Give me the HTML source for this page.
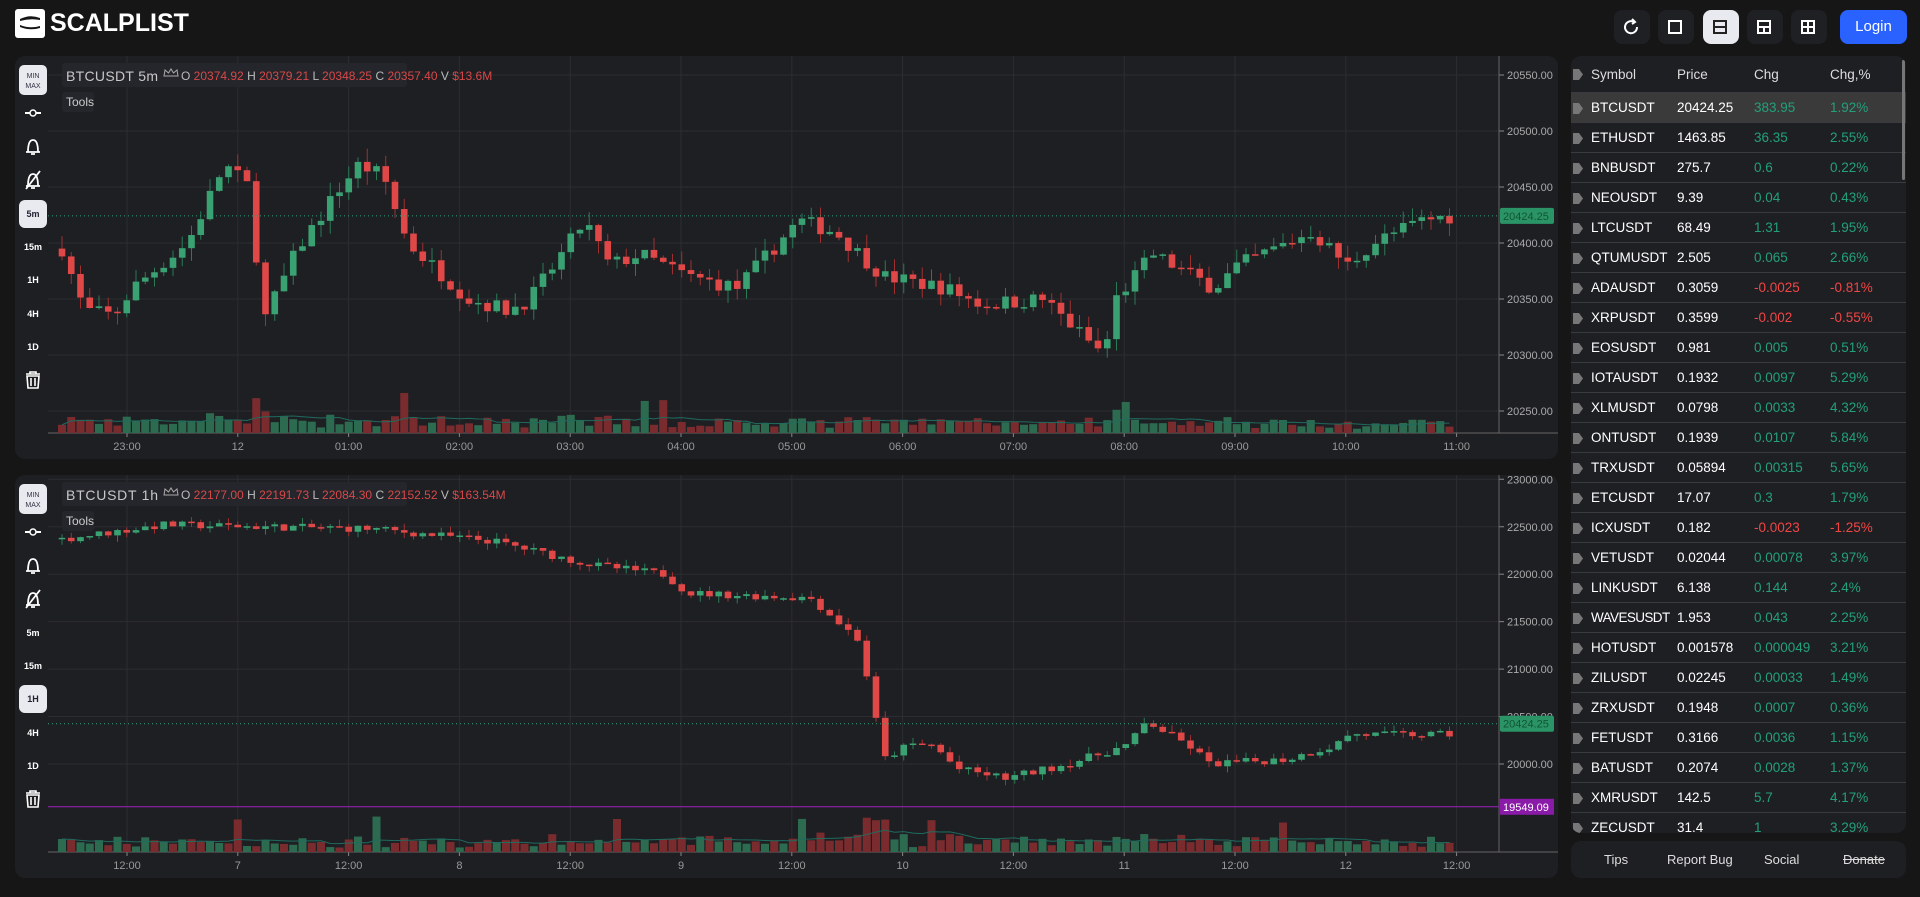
<!DOCTYPE html>
<html><head><meta charset="utf-8"><style>
*{margin:0;padding:0;box-sizing:border-box}
body{width:1920px;height:897px;background:#161616;font-family:"Liberation Sans",sans-serif;color:#ddd;position:relative;overflow:hidden}
.abs{position:absolute}
.btn{position:absolute;top:10px;width:36px;height:34px;border-radius:8px;background:#1f2024}
.panel{position:absolute;background:#1e1f23;border-radius:10px;overflow:hidden}
.row{position:absolute;left:0;width:335px;height:30px;border-bottom:1px solid #3a3b40;font-size:13.5px;line-height:30px}
.row span{position:absolute}
.g{color:#22a07a}.r{color:#f04545}
</style></head><body>
<div class="abs" style="left:15px;top:9px;width:30px;height:29px;background:#fff;border-radius:3px"></div>
<svg class="abs" style="left:15px;top:9px" width="30" height="29"><path d="M5 10 Q15 5 25 9 L25 11 Q15 9 5 12Z M5 18 Q15 22 25 19 L25 17 Q15 20 5 16Z" fill="#161616"/></svg>
<div class="abs" style="left:50px;top:9px;font-size:25px;font-weight:bold;color:#fff">SCALPLIST</div>
<div class="btn" style="left:1614px"></div><div class="btn" style="left:1658px"></div><div class="btn" style="left:1703px;background:#e8eaf0"></div><div class="btn" style="left:1747px"></div><div class="btn" style="left:1791px"></div>
<svg class="abs" style="left:1614px;top:10px" width="220" height="34" fill="none" stroke="#fff" stroke-width="2">
<path d="M23 17 A6 6 0 1 1 20 12"/><path d="M18 9 L21 12 L18 14" />
<rect x="55" y="11" width="12" height="12"/>
<rect x="100" y="11" width="12" height="12" stroke="#222"/><line x1="100" y1="17" x2="112" y2="17" stroke="#222"/>
<rect x="144" y="11" width="12" height="12"/><line x1="144" y1="17" x2="156" y2="17"/><line x1="150" y1="17" x2="150" y2="23"/>
<rect x="188" y="11" width="12" height="12"/><line x1="188" y1="17" x2="200" y2="17"/><line x1="194" y1="11" x2="194" y2="23"/>
</svg>
<div class="abs" style="left:1840px;top:10px;width:67px;height:34px;background:#2962ff;border-radius:8px;color:#fff;font-size:15px;text-align:center;line-height:34px">Login</div>

<div class="panel" style="left:15px;top:56px;width:1543px;height:403px"><svg id="c1" width="1543" height="403"></svg></div>
<div class="panel" style="left:15px;top:475px;width:1543px;height:403px"><svg id="c2" width="1543" height="403"></svg></div>

<div class="panel" style="left:1571px;top:56px;width:335px;height:777px" id="list"></div>
<div class="panel" style="left:1571px;top:841px;width:335px;height:37px;font-size:13px;color:#ddd">
<span class="abs" style="left:33px;top:11px">Tips</span><span class="abs" style="left:96px;top:11px">Report Bug</span><span class="abs" style="left:193px;top:11px">Social</span><span class="abs" style="left:272px;top:11px;text-decoration:line-through">Donate</span></div>
<script>
var rows=[["BTCUSDT","20424.25","383.95","1.92%"],["ETHUSDT","1463.85","36.35","2.55%"],["BNBUSDT","275.7","0.6","0.22%"],["NEOUSDT","9.39","0.04","0.43%"],["LTCUSDT","68.49","1.31","1.95%"],["QTUMUSDT","2.505","0.065","2.66%"],["ADAUSDT","0.3059","-0.0025","-0.81%"],["XRPUSDT","0.3599","-0.002","-0.55%"],["EOSUSDT","0.981","0.005","0.51%"],["IOTAUSDT","0.1932","0.0097","5.29%"],["XLMUSDT","0.0798","0.0033","4.32%"],["ONTUSDT","0.1939","0.0107","5.84%"],["TRXUSDT","0.05894","0.00315","5.65%"],["ETCUSDT","17.07","0.3","1.79%"],["ICXUSDT","0.182","-0.0023","-1.25%"],["VETUSDT","0.02044","0.00078","3.97%"],["LINKUSDT","6.138","0.144","2.4%"],["WAVESUSDT","1.953","0.043","2.25%"],["HOTUSDT","0.001578","0.000049","3.21%"],["ZILUSDT","0.02245","0.00033","1.49%"],["ZRXUSDT","0.1948","0.0007","0.36%"],["FETUSDT","0.3166","0.0036","1.15%"],["BATUSDT","0.2074","0.0028","1.37%"],["XMRUSDT","142.5","5.7","4.17%"],["ZECUSDT","31.4","1","3.29%"]];
var h='<div class="row" style="top:0;height:37px;line-height:37px;color:#ddd"><span style="left:20px">Symbol</span><span style="left:106px">Price</span><span style="left:183px">Chg</span><span style="left:259px">Chg,%</span><span style="left:2px;top:13px;width:10px;height:11px;background:#777;clip-path:polygon(0 0,60% 0,100% 50%,60% 100%,0 100%)"></span></div>';
rows.forEach(function(r,i){var c=r[2][0]=='-'?'r':'g';h+='<div class="row" style="top:'+(37+i*30)+'px;'+(i==0?'background:#3a3a3a;':'')+'"><span style="left:2px;top:10px;width:10px;height:11px;background:#777;clip-path:polygon(0 0,60% 0,100% 50%,60% 100%,0 100%)"></span><span style="left:20px;color:#fff;'+(r[0].length>8?'letter-spacing:-0.6px':'')+'">'+r[0]+'</span><span style="left:106px;color:#fff">'+r[1]+'</span><span class="'+c+'" style="left:183px">'+r[2]+'</span><span class="'+c+'" style="left:259px">'+r[3]+'</span></div>';});
h+='<div style="position:absolute;left:331px;top:4px;width:3px;height:120px;background:#777;border-radius:2px"></div>';
document.getElementById('list').innerHTML=h;

var seed=7;function rnd(){seed=(seed*16807)%2147483647;return seed/2147483647;}
function interp(k,f){for(var i=1;i<k.length;i++){if(f<=k[i][0]){var a=k[i-1],b=k[i];return a[1]+(b[1]-a[1])*(f-a[0])/(b[0]-a[0]);}}return k[k.length-1][1];}
function draw(id,o){
 var s='',W=1543,ax=1484,ty=377,N=151,x0=47,dx=9.25;
 for(var i=0;i<o.grid.length;i++){var y=o.py(o.grid[i]);s+='<line x1="33" x2="'+ax+'" y1="'+y+'" y2="'+y+'" stroke="#2c2d32"/><line x1="'+ax+'" x2="'+(ax+5)+'" y1="'+y+'" y2="'+y+'" stroke="#888"/><text x="'+(ax+8)+'" y="'+(y+4)+'" fill="#aaa" font-size="11">'+o.gl[i]+'</text>';}
 for(i=0;i<o.tl.length;i++){var x=112+i*110.8;s+='<line x1="'+x+'" x2="'+x+'" y1="0" y2="'+ty+'" stroke="#2c2d32"/><line x1="'+x+'" x2="'+x+'" y1="'+ty+'" y2="'+(ty+4)+'" stroke="#888"/><text x="'+x+'" y="'+(ty+17)+'" fill="#999" font-size="11" text-anchor="middle">'+o.tl[i]+'</text>';}
 s+='<line x1="'+ax+'" x2="'+ax+'" y1="0" y2="'+ty+'" stroke="#666"/><line x1="33" x2="'+W+'" y1="'+ty+'" y2="'+ty+'" stroke="#666"/>';
 var prev=o.k[0][1],vols=[],ma='';
 for(i=0;i<N;i++){var f=i/(N-1),t=interp(o.k,f)+(rnd()-0.5)*o.nz,op=prev,cl=t;var hi=Math.max(op,cl)+rnd()*o.wk,lo=Math.min(op,cl)-rnd()*o.wk;var up=cl>=op,col=up?'#3aa272':'#e04848',x=x0+i*dx;
  var y1=o.py(Math.max(op,cl)),y2=o.py(Math.min(op,cl));if(y2-y1<1.5)y2=y1+1.5;
  s+='<line x1="'+x+'" x2="'+x+'" y1="'+o.py(hi)+'" y2="'+o.py(lo)+'" stroke="'+(up?'#2a7a55':'#a03030')+'"/><rect x="'+(x-3.3)+'" y="'+y1+'" width="6.6" height="'+(y2-y1)+'" fill="'+col+'"/>';
  var v=4+rnd()*9+Math.abs(cl-op)/o.wk*4;if(rnd()<0.035)v+=22;v=Math.min(v,55);
  s+='<rect x="'+(x-4)+'" y="'+(ty-v)+'" width="8" height="'+v+'" fill="'+(up?'#2d6b50':'#7a2b2e')+'"/>';
  vols.push(v);var m=0,c=0;for(var j=Math.max(0,i-9);j<=i;j++){m+=vols[j];c++;}ma+=(i?'L':'M')+x+' '+(ty-m/c);prev=cl;}
 s+='<path d="'+ma+'" stroke="#1f6b5e" fill="none"/>';
 var ly=o.py(20424.25);s+='<line x1="33" x2="'+ax+'" y1="'+ly+'" y2="'+ly+'" stroke="#2fa07a" stroke-dasharray="1,3"/><rect x="'+(ax+1)+'" y="'+(ly-8)+'" width="54" height="16" rx="2" fill="#2b9466"/><text x="'+(ax+4)+'" y="'+(ly+4)+'" fill="#153" font-size="11">20424.25</text>';
 if(o.purple){var py=o.py(19549.09);s+='<line x1="33" x2="'+ax+'" y1="'+py+'" y2="'+py+'" stroke="#a020c0"/><rect x="'+(ax+1)+'" y="'+(py-8)+'" width="54" height="16" fill="#8a1aa8"/><text x="'+(ax+4)+'" y="'+(py+4)+'" fill="#fff" font-size="11">19549.09</text>';}
 s+='<rect x="47" y="7" width="345" height="24" rx="3" fill="#25262b"/><rect x="47" y="36" width="32" height="20" rx="3" fill="#25262b"/><text x="51" y="50" fill="#ccc" font-size="12">Tools</text>';
 s+='<text x="51" y="25" font-size="14" fill="#c8c8c8" textLength="'+(o.title.length>10?95:92)+'">'+o.title+'</text>';
 var L=o.leg;s+='<text x="166" y="24" font-size="12" fill="#bbb">O <tspan fill="#d84848">'+L[0]+'</tspan> H <tspan fill="#d84848">'+L[1]+'</tspan> L <tspan fill="#d84848">'+L[2]+'</tspan> C <tspan fill="#d84848">'+L[3]+'</tspan> V <tspan fill="#d84848">'+L[4]+'</tspan></text>';
 s+='<path d="M149 20 l1 -6 3.5 3 2.5 -4 2.5 4 3.5 -3 1 6z" fill="none" stroke="#aaa"/>';
 s+='<rect x="4" y="9" width="28" height="30" rx="5" fill="#e8eaf0"/><text x="18" y="22" font-size="7" text-anchor="middle" fill="#334">MIN</text><text x="18" y="32" font-size="7" text-anchor="middle" fill="#334">MAX</text>';
 s+='<line x1="10" x2="26" y1="57" y2="57" stroke="#fff" stroke-width="2"/><circle cx="18" cy="57" r="3" fill="#1e1f23" stroke="#fff" stroke-width="1.5"/>';
 s+='<path d="M13 96 Q13 84 18 84 Q23 84 23 96 L25 96 L11 96Z M16 98 h4" fill="none" stroke="#fff" stroke-width="1.8"/>';
 s+='<path d="M13 130 Q13 118 18 118 Q23 118 23 130 L25 130 L11 130Z M16 132 h4 M11 133 L25 115" fill="none" stroke="#fff" stroke-width="1.8"/>';
 var tf=['5m','15m','1H','4H','1D'],ty2=[158,191,224,258,291];
 for(i=0;i<5;i++){if(tf[i]==o.act)s+='<rect x="4" y="'+(ty2[i]-14)+'" width="28" height="28" rx="6" fill="#e8eaf0"/>';s+='<text x="18" y="'+(ty2[i]+3)+'" font-size="9" font-weight="bold" text-anchor="middle" fill="'+(tf[i]==o.act?'#223':'#fff')+'">'+tf[i]+'</text>';}
 s+='<path d="M11 318 h14 M15 318 v-2 h6 v2 M12 320 h12 l-1 12 h-10z M16 322 v8 M20 322 v8" fill="none" stroke="#fff" stroke-width="1.6"/>';
 document.getElementById(id).innerHTML=s;}
function X(d){return (d-47)/(1183-47);}
draw('c1',{py:function(p){return 131+(20450-p)*1.12;},grid:[20550,20500,20450,20400,20350,20300,20250],gl:['20550.00','20500.00','20450.00','20400.00','20350.00','20300.00','20250.00'],
 tl:['23:00','12','01:00','02:00','03:00','04:00','05:00','06:00','07:00','08:00','09:00','10:00','11:00'],nz:14,wk:12,
 k:[[0,20395],[X(65),20340],[X(90),20335],[X(105),20360],[X(150),20400],[X(180),20470],[X(200),20450],[X(212),20330],[X(240),20395],[X(275),20450],[X(290),20470],[X(310),20460],[X(330),20400],[X(380),20350],[X(412),20340],[X(430),20350],[X(450),20380],[X(475),20420],[X(495),20380],[X(520),20390],[X(560),20370],[X(600),20360],[X(650),20420],[X(680),20410],[X(720),20370],[X(770),20360],[X(800),20345],[X(850),20350],[X(900),20300],[X(910),20350],[X(940),20390],[X(990),20360],[X(1010),20380],[X(1070),20410],[X(1100),20380],[X(1120),20400],[X(1160),20420],[1,20424]],
 title:'BTCUSDT 5m',leg:['20374.92','20379.21','20348.25','20357.40','$13.6M'],act:'5m'});
draw('c2',{py:function(p){return 289+(20000-p)*0.0949;},grid:[23000,22500,22000,21500,21000,20500,20000],gl:['23000.00','22500.00','22000.00','21500.00','21000.00','20500.00','20000.00'],
 tl:['12:00','7','12:00','8','12:00','9','12:00','10','12:00','11','12:00','12','12:00'],nz:80,wk:70,purple:1,
 k:[[0,22370],[X(130),22520],[X(300),22480],[X(400),22350],[X(480),22100],[X(540),22000],[X(560),21800],[X(660),21750],[X(700),21300],[X(720),20050],[X(740),20200],[X(760),20200],[X(780),19950],[X(820),19850],[X(870),20000],[X(920),20200],[X(935),20450],[X(975),20150],[X(985),20000],[X(1050),20050],[X(1090),20200],[X(1100),20310],[1,20310]],
 title:'BTCUSDT 1h',leg:['22177.00','22191.73','22084.30','22152.52','$163.54M'],act:'1H'});
</script>
</body></html>
